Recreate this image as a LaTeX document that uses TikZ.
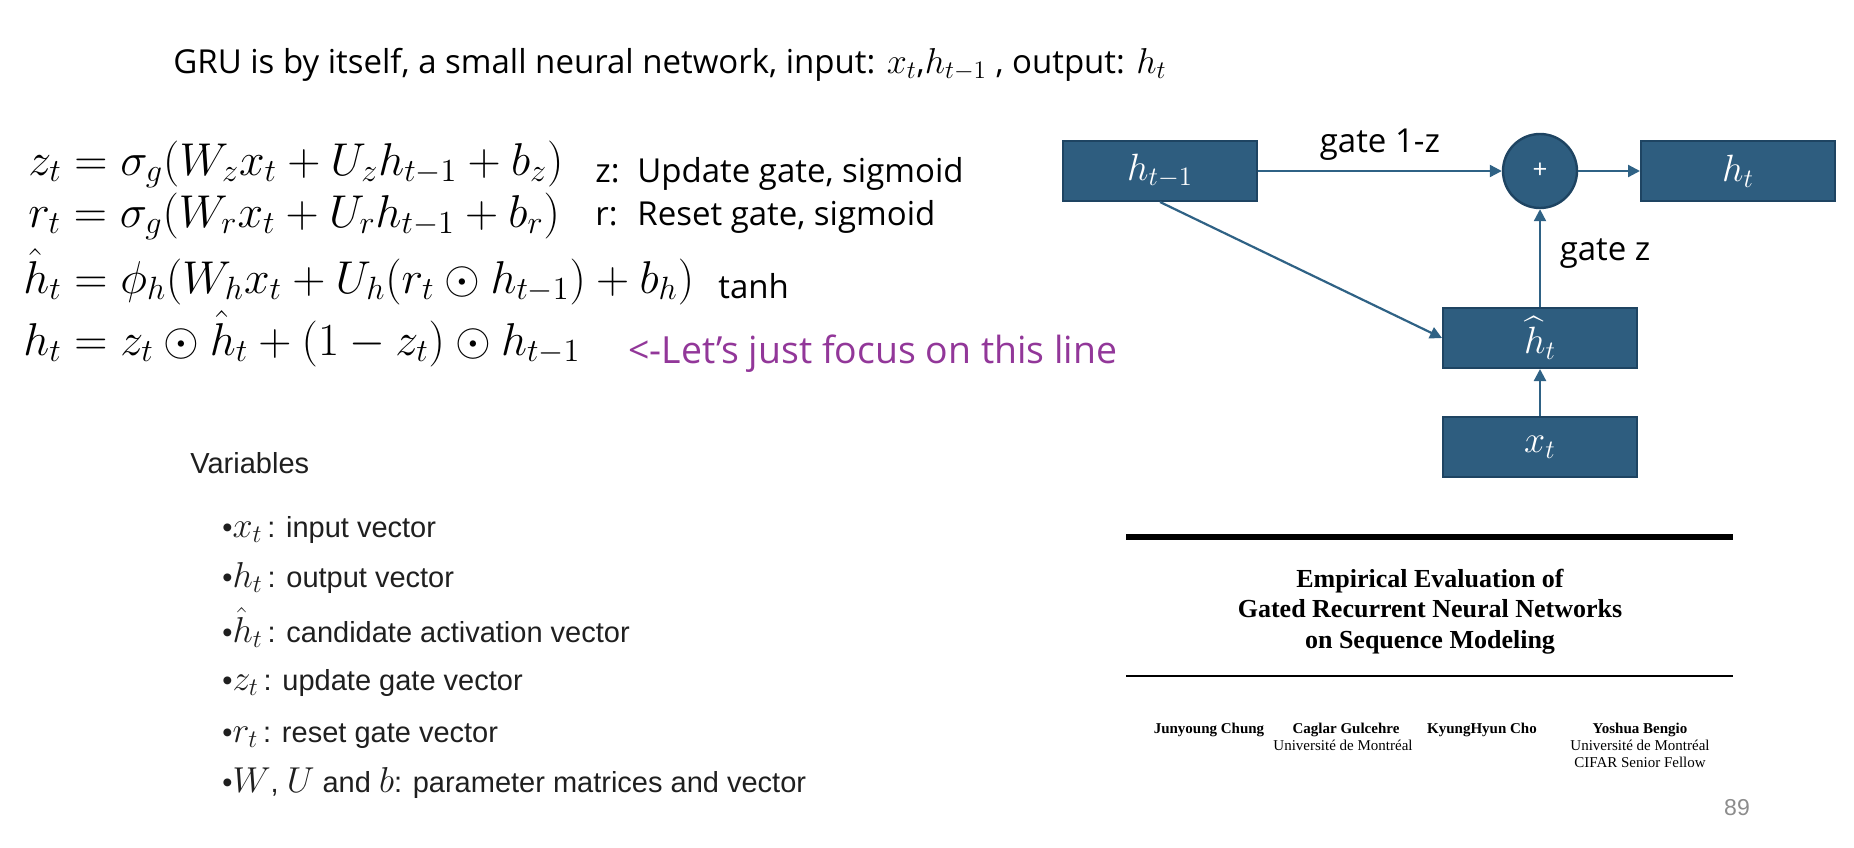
\RequirePackage{fix-cm}
\documentclass[tikz,border=0pt]{standalone}
\usepackage{amsmath}
\usepackage[no-math]{fontspec}
\setmainfont{Liberation Serif}
\newfontfamily\aptos{Open Sans}
\newfontfamily\helv{Liberation Sans}
\usetikzlibrary{arrows.meta}
\definecolor{boxfill}{RGB}{46,93,127}
\definecolor{boxline}{RGB}{30,68,98}
\definecolor{arrowblue}{RGB}{47,98,133}
\definecolor{notepurple}{RGB}{146,55,153}
\definecolor{pagegray}{RGB}{140,140,140}
\newcommand{\vsym}[1]{{\fontsize{18}{18}\selectfont$#1$}}
\newcommand{\hsym}[1]{{\fontsize{18}{18}\selectfont$#1$}}
\tikzset{
  cell/.style={draw=boxline, line width=1pt, fill=boxfill, text=white,
    minimum width=97pt, minimum height=30pt, font=\fontsize{19}{21}\selectfont},
  sum/.style={circle, draw=boxline, line width=1.2pt, fill=boxfill, text=white,
    minimum size=37pt, inner sep=0pt, font=\aptos\fontsize{13}{15}\selectfont},
  flow/.style={draw=arrowblue, line width=1.1pt, -{Triangle[length=6pt,width=6pt]}},
  slidetext/.style={anchor=base west, inner sep=0pt, font=\aptos\fontsize{16.5}{19}\selectfont},
  eqline/.style={anchor=base west, inner sep=0pt, font=\fontsize{23}{27}\selectfont},
  varitem/.style={anchor=base west, inner sep=0pt, text=black!88, font=\helv\fontsize{14.5}{17}\selectfont},
  papertitle/.style={anchor=base, inner sep=0pt, font=\bfseries\fontsize{13}{15}\selectfont},
  author/.style={anchor=base, inner sep=0pt, font=\fontsize{7.5}{9}\selectfont}
}
\begin{document}
\begin{tikzpicture}[x=0.5pt,y=-0.5pt]
    \useasboundingbox (0,0) rectangle (1854,847);
    % headline
    \node[slidetext] (headline) at (173,73) {GRU is by itself, a small neural network, input: \hsym{x_t},\hsym{h_{t-1}} , output: \hsym{h_t}};
    % equations
    \node[eqline] (eqz) at (28,175) {$z_t = \sigma_g(W_z x_t + U_z h_{t-1} + b_z)$};
    \node[eqline] (eqr) at (28,227) {$r_t = \sigma_g(W_r x_t + U_r h_{t-1} + b_r)$};
    \node[eqline] (eqhhat) at (23,293) {$\hat{h}_t = \phi_h(W_h x_t + U_h(r_t \odot h_{t-1}) + b_h)$};
    \node[eqline] (eqh) at (23,355) {$h_t = z_t \odot \hat{h}_t + (1 - z_t) \odot h_{t-1}$};
    \node[slidetext] (znote) at (595,182) {\makebox[21pt][l]{z:}Update gate, sigmoid};
    \node[slidetext] (rnote) at (595,225) {\makebox[21pt][l]{r:}Reset gate, sigmoid};
    \node[slidetext] (tanhnote) at (718,298) {tanh};
    \node[slidetext, text=notepurple, font=\aptos\fontsize{18.7}{21}\selectfont] (focusnote) at (628,363) {<-Let’s just focus on this line};
    % variables
    \node[varitem] (varhead) at (190,473) {Variables};
    \node[varitem] (varx) at (222,537) {\textbullet\vsym{x_t}\,: input vector};
    \node[varitem] (varh) at (222,587) {\textbullet\vsym{h_t}\,: output vector};
    \node[varitem] (varhhat) at (222,642) {\textbullet\vsym{\hat{h}_t}\,: candidate activation vector};
    \node[varitem] (varz) at (222,690) {\textbullet\vsym{z_t}\,: update gate vector};
    \node[varitem] (varr) at (222,742) {\textbullet\vsym{r_t}\,: reset gate vector};
    \node[varitem] (varw) at (222,792) {\textbullet\vsym{W}, \vsym{U} and \vsym{b}: parameter matrices and vector};
    % GRU cell
    \node[cell] (hprev) at (1160,171) {$h_{t-1}$};
    \node[sum] (plus) at (1540,171) {+};
    \node[cell] (ht) at (1738,171) {$h_t$};
    \node[cell] (hhat) at (1540,338) {$\widehat{h}_t$};
    \node[cell] (xt) at (1540,447) {$x_t$};
    \draw[flow] (hprev.east) -- node[pos=0.5, above=1.5pt, font=\aptos\fontsize{16.5}{19}\selectfont] (gateonez) {gate 1-z} (plus.west);
    \draw[flow] (plus.east) -- (ht.west);
    \draw[flow] (hhat.north) -- node[pos=0.55, right=6pt, font=\aptos\fontsize{16.5}{19}\selectfont] (gatez) {gate z} (plus.south);
    \draw[flow] (xt.north) -- (hhat.south);
    \draw[flow] (hprev.south) -- (hhat.west);
    % paper header
    \draw[line width=3pt] (1126,537) -- (1733,537);
    \node[papertitle] (titlea) at (1430,587) {Empirical Evaluation of};
    \node[papertitle] (titleb) at (1430,617) {Gated Recurrent Neural Networks};
    \node[papertitle] (titlec) at (1430,648) {on Sequence Modeling};
    \draw[line width=1pt] (1126,676) -- (1733,676);
    \node[author, font=\bfseries\fontsize{7.5}{9}\selectfont] (chung) at (1209,733) {Junyoung Chung};
    \node[author, font=\bfseries\fontsize{7.5}{9}\selectfont] (gulcehre) at (1346,733) {Caglar Gulcehre};
    \node[author] (gulcehreaff) at (1343,750) {Université de Montréal};
    \node[author, font=\bfseries\fontsize{7.5}{9}\selectfont] (cho) at (1482,733) {KyungHyun Cho};
    \node[author, font=\bfseries\fontsize{7.5}{9}\selectfont] (bengio) at (1640,733) {Yoshua Bengio};
    \node[author] (bengioaff) at (1640,750) {Université de Montréal};
    \node[author] (bengiofellow) at (1640,767) {CIFAR Senior Fellow};
    \node[anchor=base, inner sep=0pt, text=pagegray, font=\helv\fontsize{11.5}{13}\selectfont] (pagenum) at (1737,815) {89};
  \end{tikzpicture}
\end{document}
